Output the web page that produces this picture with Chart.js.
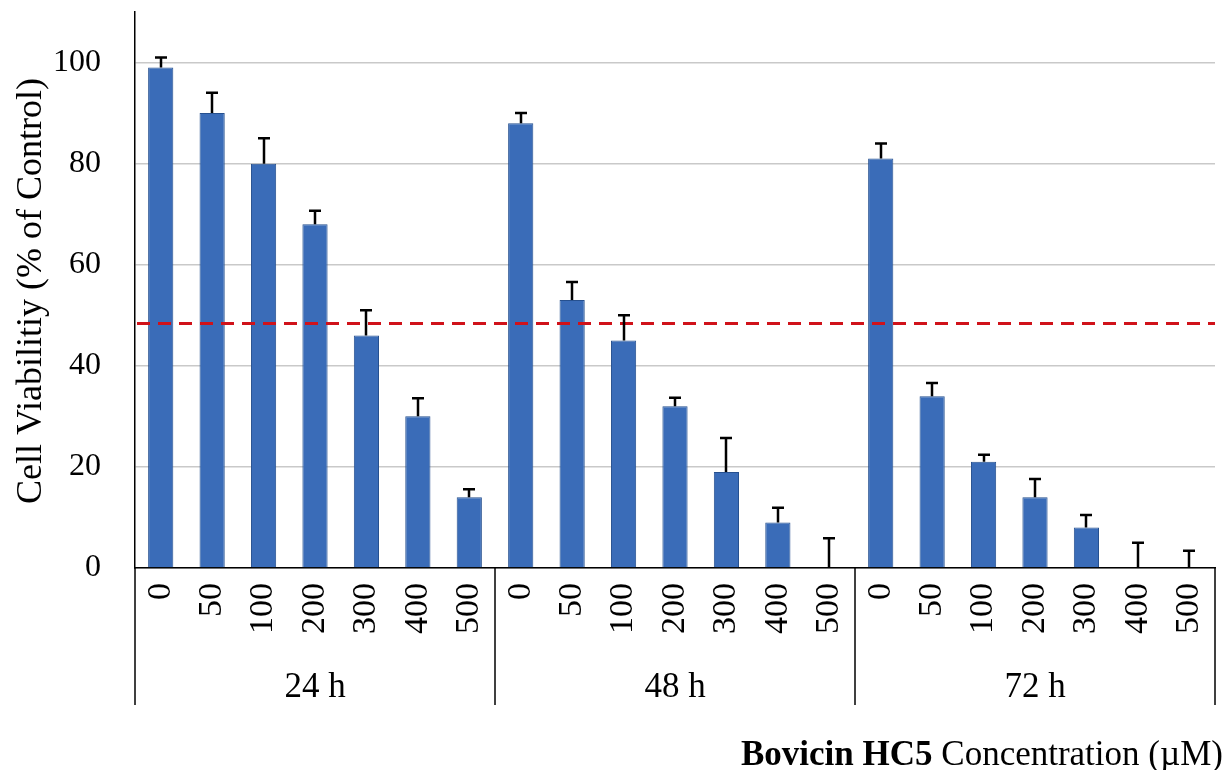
<!DOCTYPE html>
<html>
<head>
<meta charset="utf-8">
<script src="https://cdn.jsdelivr.net/npm/chart.js@4"></script>
<style>
  html, body { margin: 0; padding: 0; background: #fff; }
  #wrap { width: 1227px; height: 770px; }
</style>
</head>
<body>
<div id="wrap"><canvas id="viability"></canvas></div>
<script>
const concentrations = ['0', '50', '100', '200', '300', '400', '500'];
const timepoints = ['24 h', '48 h', '72 h'];

const viability24 = [99, 90, 80, 68, 46, 30, 14];
const viability48 = [88, 53, 45, 32, 19, 9, 0];
const viability72 = [81, 34, 21, 14, 8, 0, 0];

const sd24 = [2, 4, 5, 2.7, 5, 3.6, 1.6];
const sd48 = [2, 3.6, 5, 1.7, 6.7, 2.9, 5.9];
const sd72 = [3, 2.6, 1.4, 3.6, 2.5, 5, 3.4];

const yTicks = [0, 20, 40, 60, 80, 100];
const ic50 = 48.5;

const SERIF = '"Liberation Serif", "Times New Roman", serif';

const labels = [...concentrations, ...concentrations, ...concentrations];
const values = [...viability24, ...viability48, ...viability72];
const errors = [...sd24, ...sd48, ...sd72];

// bars get a soft horizontal shading, darker at the edges
function barFill(ctx) {
  const el = ctx.element;
  if (!el || el.width == null) return '#3a6cb8';
  const c = ctx.chart.ctx;
  const x0 = el.x - el.width / 2;
  const g = c.createLinearGradient(x0, 0, x0 + el.width, 0);
  g.addColorStop(0, '#28569c');
  g.addColorStop(0.25, '#386bb8');
  g.addColorStop(0.6, '#3f73c0');
  g.addColorStop(1, '#2a589f');
  return g;
}

// keep the plot area exactly where the axes put it
function noScalePadding(scale) {
  scale.paddingTop = 0;
  scale.paddingBottom = 0;
  scale.paddingLeft = 0;
  scale.paddingRight = 0;
}

const overlays = {
  id: 'overlays',
  afterDatasetsDraw(chart) {
    const c = chart.ctx;
    const y = chart.scales.y;
    const area = chart.chartArea;

    // IC50 reference line
    c.save();
    c.strokeStyle = '#d0121a';
    c.lineWidth = 3;
    c.setLineDash([13, 8]);
    const yl = Math.round(y.getPixelForValue(ic50)) + 0.5;
    c.beginPath();
    c.moveTo(area.left + 2, yl);
    c.lineTo(area.right, yl);
    c.stroke();
    c.restore();

    // upper error bars
    const meta = chart.getDatasetMeta(0);
    c.save();
    c.strokeStyle = '#000';
    c.lineWidth = 2.5;
    meta.data.forEach((bar, i) => {
      const top = y.getPixelForValue(values[i] + errors[i]);
      const x = Math.round(bar.x);
      c.beginPath();
      c.moveTo(x, bar.y);
      c.lineTo(x, top);
      c.moveTo(x - 6, top);
      c.lineTo(x + 6, top);
      c.stroke();
    });
    c.restore();
  },
  afterDraw(chart) {
    const c = chart.ctx;
    const x = chart.scales.x;
    const area = chart.chartArea;
    const n = concentrations.length;

    // group dividers under the category axis
    const bounds = [area.left];
    for (let g = 1; g < timepoints.length; g++) {
      bounds.push((x.getPixelForTick(g * n - 1) + x.getPixelForTick(g * n)) / 2);
    }
    bounds.push(area.right);

    c.save();
    c.strokeStyle = '#000';
    c.lineWidth = 1.5;
    bounds.forEach(bx => {
      c.beginPath();
      c.moveTo(Math.round(bx), area.bottom);
      c.lineTo(Math.round(bx), 705);
      c.stroke();
    });

    c.fillStyle = '#000';
    c.font = '35px ' + SERIF;
    c.textAlign = 'center';
    c.textBaseline = 'alphabetic';
    timepoints.forEach((t, g) => {
      c.fillText(t, (bounds[g] + bounds[g + 1]) / 2, 697);
    });

    // y axis title
    c.save();
    c.translate(41, 291);
    c.rotate(-Math.PI / 2);
    c.font = '36px ' + SERIF;
    c.fillText('Cell Viabilitiy (% of Control)', 0, 0);
    c.restore();

    // x axis title, compound name in bold
    const boldPart = 'Bovicin HC5';
    const rest = ' Concentration (\u00b5M)';
    c.textAlign = 'left';
    c.font = 'bold 35px ' + SERIF;
    const bw = c.measureText(boldPart).width;
    c.fillText(boldPart, 741, 765);
    c.font = '35px ' + SERIF;
    c.fillText(rest, 741 + bw, 765);
    c.restore();
  }
};

new Chart(document.getElementById('viability'), {
  type: 'bar',
  data: {
    labels: labels,
    datasets: [{
      data: values,
      backgroundColor: barFill,
      borderColor: '#26508f',
      borderWidth: 1,
      barPercentage: 0.49,
      categoryPercentage: 1
    }]
  },
  options: {
    responsive: true,
    maintainAspectRatio: false,
    animation: false,
    layout: { padding: { left: 0, top: 12, right: 12, bottom: 0 } },
    plugins: {
      legend: { display: false },
      tooltip: { enabled: false }
    },
    scales: {
      x: {
        grid: { display: false, drawTicks: false },
        border: { display: true, color: '#000', width: 1.5 },
        ticks: {
          color: '#000',
          font: { family: SERIF, size: 34 },
          minRotation: 90,
          maxRotation: 90,
          padding: 15,
          autoSkip: false
        },
        afterFit(scale) {
          scale.height = 202;
          noScalePadding(scale);
        }
      },
      y: {
        min: 0,
        max: 110,
        afterBuildTicks(scale) {
          scale.ticks = yTicks.map(v => ({ value: v }));
        },
        grid: { color: '#c9c9c9', lineWidth: 1.5, drawTicks: false },
        border: { display: true, color: '#000', width: 1.5 },
        ticks: {
          color: '#000',
          font: { family: SERIF, size: 32 },
          padding: 34
        },
        afterFit(scale) {
          scale.width = 135;
          noScalePadding(scale);
        }
      }
    }
  },
  plugins: [overlays]
});
</script>
</body>
</html>
